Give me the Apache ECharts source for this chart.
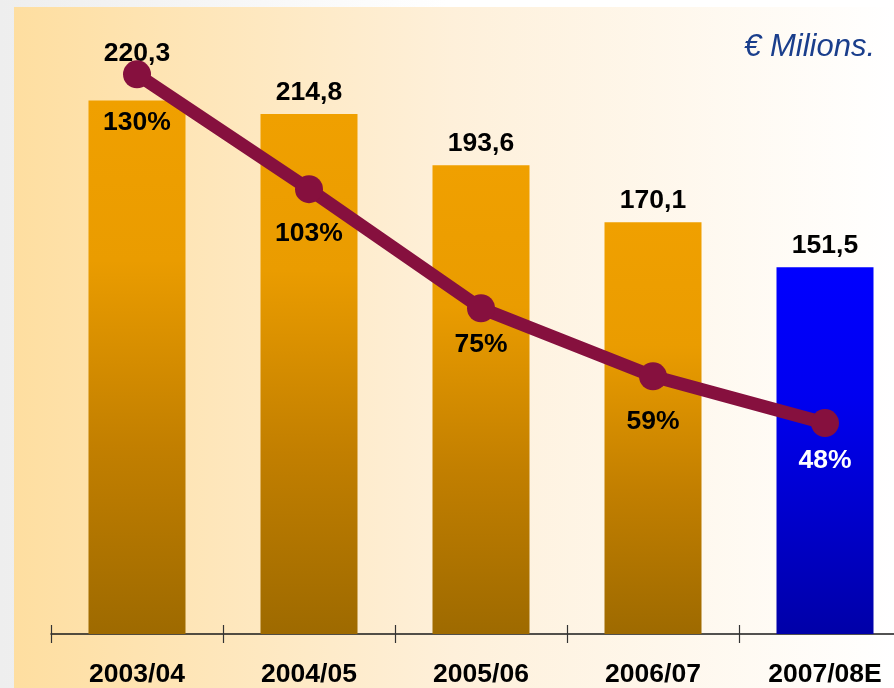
<!DOCTYPE html>
<html><head><meta charset="utf-8">
<script src="https://cdn.jsdelivr.net/npm/echarts@6/dist/echarts.min.js"></script>
<style>html,body{margin:0;padding:0;background:#fff;overflow:hidden}#c{width:894px;height:688px}</style>
</head><body><div id="c"></div>
<script>
// ---- data ----
const categories = ['2003/04', '2004/05', '2005/06', '2006/07', '2007/08E'];
const revenue = [220.3, 214.8, 193.6, 170.1, 151.5];
const ratio = [130, 103, 75, 59, 48];
const unitLabel = '€ Milions.';

// ---- styling helpers (not data) ----
const FONT = "'Liberation Sans', Arial, Helvetica, sans-serif";
const pctLabelDy = [48, 45, 36, 45, 38];
const fmt = v => v.toFixed(1).replace('.', ',');

const orange = new echarts.graphic.LinearGradient(0, 0, 0, 1, [
  { offset: 0, color: '#F0A000' },
  { offset: 0.3, color: '#EA9C00' },
  { offset: 0.65, color: '#C27F00' },
  { offset: 1, color: '#9E6A00' }
]);
const blue = new echarts.graphic.LinearGradient(0, 0, 0, 1, [
  { offset: 0, color: '#0000FF' },
  { offset: 0.35, color: '#0000F0' },
  { offset: 1, color: '#0000A8' }
]);

const barData = revenue.map((v, i) => ({
  value: v,
  itemStyle: { color: i === revenue.length - 1 ? blue : orange },
  label: i === 0 ? { distance: 33 } : {}
}));
const lineData = ratio.map((v, i) => ({
  value: v,
  label: { offset: [0, pctLabelDy[i]], color: i === ratio.length - 1 ? '#FFFFFF' : '#000000' }
}));

const chart = echarts.init(document.getElementById('c'), null, { renderer: 'canvas' });
chart.setOption({
  animation: false,
  backgroundColor: new echarts.graphic.LinearGradient(0, 0, 1, 0, [
    { offset: 0, color: '#EEEEEE' },
    { offset: 0.5, color: '#FFFFFF' },
    { offset: 1, color: '#FFFFFF' }
  ]),
  graphic: [{
    type: 'rect', z: -1, silent: true,
    shape: { x: 14, y: 7, width: 880, height: 681 },
    style: {
      fill: new echarts.graphic.LinearGradient(0, 0, 1, 0, [
        { offset: 0, color: '#FEDEA0' },
        { offset: 0.5, color: '#FEF0DA' },
        { offset: 1, color: '#FFFFFF' }
      ])
    }
  }],
  title: {
    text: unitLabel, right: 19, top: 32, padding: 0,
    textStyle: { fontFamily: FONT, fontSize: 31, fontStyle: 'italic', fontWeight: 'normal', color: '#1A3E8C' }
  },
  grid: { left: 51, top: 34, width: 860, height: 600, containLabel: false, outerBoundsMode: 'none' },
  xAxis: [{
    type: 'category', data: categories, position: 'bottom',
    axisLine: { show: true, lineStyle: { color: '#1A1A1A', width: 1.5 } },
    axisTick: { show: false },
    axisLabel: { margin: 27, fontFamily: FONT, fontSize: 26.5, fontWeight: 'bold', color: '#000' },
    splitLine: { show: false }
  }, {
    type: 'category', data: categories, position: 'bottom', offset: -9,
    axisLine: { show: false },
    axisTick: { show: true, inside: false, length: 18, lineStyle: { color: '#333', width: 1.2 } },
    axisLabel: { show: false },
    splitLine: { show: false }
  }],
  yAxis: [
    { type: 'value', min: 0, max: 247.8, show: false, splitLine: { show: false } },
    { type: 'value', min: -1.575, max: 139.47, show: false, splitLine: { show: false } }
  ],
  series: [{
    type: 'bar', xAxisIndex: 0, yAxisIndex: 0, data: barData, barWidth: 97, z: 2,
    label: {
      show: true, position: 'top', distance: 8,
      formatter: p => fmt(p.value),
      fontFamily: FONT, fontSize: 26.5, fontWeight: 'bold', color: '#000'
    }
  }, {
    type: 'line', xAxisIndex: 0, yAxisIndex: 1, data: lineData, z: 3,
    symbol: 'circle', symbolSize: 28,
    lineStyle: { color: '#86103E', width: 13 },
    itemStyle: { color: '#86103E' },
    label: {
      show: true, position: 'inside',
      formatter: p => p.value + '%',
      fontFamily: FONT, fontSize: 26.5, fontWeight: 'bold'
    }
  }]
});
</script></body></html>
